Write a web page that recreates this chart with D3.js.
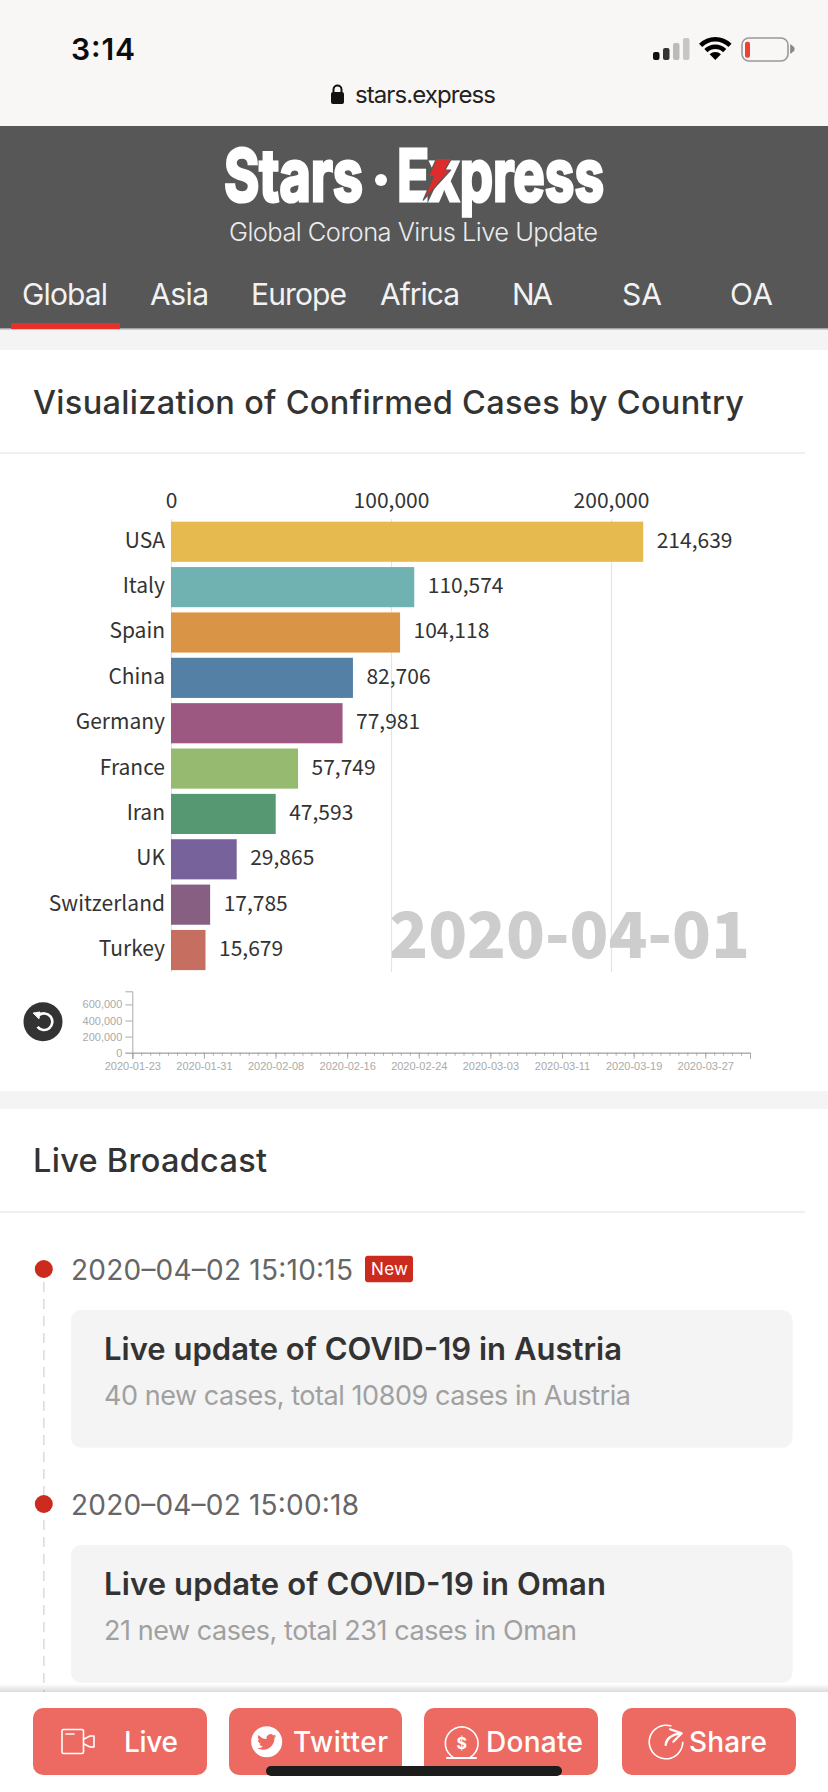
<!DOCTYPE html>
<html>
<head>
<meta charset="utf-8">
<script src="https://cdn.jsdelivr.net/npm/d3@7"></script>
<style>
  html, body { margin: 0; padding: 0; background: #fff; }
  svg { display: block; }
  text { font-family: Inter, Roboto, sans-serif; }
  .race text { font-family: "Noto Sans CJK SC", "Noto Sans", sans-serif; font-size: 21px; fill: #333; }
  .mini text { font-family: "Liberation Sans", Arial, sans-serif; font-size: 11px; fill: #aaa; }
  .mini path, .mini line { stroke: #aaa; }
</style>
</head>
<body>
<script>
// chart values
const countries = ["USA", "Italy", "Spain", "China", "Germany", "France", "Iran", "UK", "Switzerland", "Turkey"];
const cases = [214639, 110574, 104118, 82706, 77981, 57749, 47593, 29865, 17785, 15679];
const raceTicks = [0, 100000, 200000];
const raceDate = "2020-04-01";

const miniTicksY = [0, 200000, 400000, 600000];
const miniLabelsX = ["2020-01-23", "2020-01-31", "2020-02-08", "2020-02-16", "2020-02-24", "2020-03-03", "2020-03-11", "2020-03-19", "2020-03-27"];
const miniStart = "2020-01-23";
const miniEnd = "2020-04-01";

const navItems = ["Global", "Asia", "Europe", "Africa", "NA", "SA", "OA"];
const liveTimes = ["2020–04–02 15:10:15", "2020–04–02 15:00:18"];
const liveTitles = ["Live update of COVID-19 in Austria", "Live update of COVID-19 in Oman"];
const liveNotes = ["40 new cases, total 10809 cases in Austria", "21 new cases, total 231 cases in Oman"];
const buttons = ["Live", "Twitter", "Donate", "Share"];

const palette = ["#e6b84a", "#6ab0ae", "#d8923f", "#4e7ca3", "#99537c", "#93b86a", "#4f956c", "#735d99", "#825a7e", "#c46a5b"];

const svg = d3.select("body").append("svg").attr("width", 828).attr("height", 1792);

function rect(x, y, w, h, fill, r) {
  return svg.append("rect").attr("x", x).attr("y", y).attr("width", w).attr("height", h)
    .attr("rx", r || 0).attr("fill", fill);
}

function label(x, y, str, size, width, fill, weight, anchor) {
  return svg.append("text").attr("x", x).attr("y", y).text(str)
    .attr("font-size", size).attr("fill", fill).attr("font-weight", weight || 400)
    .attr("text-anchor", anchor || "start")
    .attr("textLength", width).attr("lengthAdjust", "spacing");
}

function icon(d, stroke, w, fill) {
  return svg.append("path").attr("d", d).attr("fill", fill || "none")
    .attr("stroke", stroke).attr("stroke-width", w).attr("stroke-linecap", "round").attr("stroke-linejoin", "round");
}

// ---- phone status bar
rect(0, 0, 828, 126, "#f8f7f6");
label(71, 60, "3:14", 30, 64, "#0c0c0c", 600);
label(355, 103, "stars.express", 24, 141, "#222", 400);
rect(331, 92, 13, 12, "#111", 2);
icon("M333.5 92 v-2.5 a4 4 0 0 1 8 0 v2.5", "#111", 2);

const signal = [[653, 8, "#111"], [663, 12, "#333"], [673, 17, "#bbb"], [683, 22, "#c6c6c6"]];
signal.forEach(s => rect(s[0], 60 - s[1], 6.5, s[1], s[2], 2));
[[0, 8], [11, 15.5], [18.5, 23]].forEach(r => {
  svg.append("path").attr("transform", "translate(715.3,60)")
    .attr("d", d3.arc().innerRadius(r[0]).outerRadius(r[1]).startAngle(-Math.PI / 4).endAngle(Math.PI / 4)())
    .attr("fill", "#000");
});
rect(742, 38, 46, 23, "none", 7).attr("stroke", "#999").attr("stroke-width", 1.6);
rect(745, 41.7, 5, 16, "#ea4335", 2);
icon("M791 45 l3 2.5 v3 l-3 2.5 z", "#888", 1, "#888");

// ---- site header
rect(0, 126, 828, 202, "#575757");
rect(0, 328, 828, 22, "#f4f4f4");
rect(0, 328, 828, 1.5, "#a6a6a6");

label(224, 200.7, "Stars", 72, 139, "#fff", 700).attr("lengthAdjust", "spacingAndGlyphs").attr("stroke", "#fff").attr("stroke-width", 3.2);
svg.append("circle").attr("cx", 381).attr("cy", 180).attr("r", 6).attr("fill", "#fff");
label(397, 200.7, "Express", 72, 207, "#fff", 700).attr("lengthAdjust", "spacingAndGlyphs").attr("stroke", "#fff").attr("stroke-width", 3.2);
icon("M436.7 158.3 L451.7 158.3 L445 170 L450.7 170 L423.3 200 L433.3 176.7 L428.3 176.7 Z", "#575757", 1.2, "#dd2c2c");

label(229, 241, "Global Corona Virus Live Update", 25.5, 369, "#ececec", 300);

const navX = [22, 150, 251, 380, 512, 622, 730];
const navW = [86, 59, 96, 80, 41, 40, 43];
navItems.forEach((n, i) => label(navX[i], 305, n, 30, navW[i], "#f2f2f2", 400));
rect(11, 323, 109, 6, "#e8302a");

// ---- race chart card
label(33, 414, "Visualization of Confirmed Cases by Country", 32.5, 711, "#333", 500);
rect(0, 452, 805, 2, "#f0f0f0");

const x = d3.scaleLinear().domain([0, 200000]).range([171, 611]);
const y = d3.scaleBand().domain(countries).range([521.7, 970.1]).paddingInner(0.115);
const color = d3.scaleOrdinal(countries, palette);
const fmt = d3.format(",");

const race = svg.append("g").attr("class", "race");

const gridAxis = race.append("g").attr("transform", "translate(0,519)")
  .call(d3.axisTop(x).tickValues(raceTicks).tickFormat(fmt).tickSize(-453).tickPadding(11));
gridAxis.select(".domain").remove();
gridAxis.selectAll("line").attr("stroke", "#e4e4e4").attr("stroke-width", 1.2);

race.append("text").attr("class", "date")
  .attr("x", 750).attr("y", 958).attr("text-anchor", "end")
  .style("font-size", "64px").style("font-weight", 900).style("fill", "#cdcdcd")
  .text(raceDate);

race.selectAll("rect").data(countries).enter().append("rect")
  .attr("x", x(0))
  .attr("y", d => y(d))
  .attr("height", y.bandwidth())
  .attr("width", (d, i) => x(cases[i]) - x(0))
  .attr("fill", d => color(d))
  .attr("fill-opacity", 0.97);

race.selectAll("text.cat").data(countries).enter().append("text").attr("class", "cat")
  .attr("x", x(0) - 6)
  .attr("y", d => y(d) + y.bandwidth() / 2 + 6)
  .attr("text-anchor", "end")
  .text(d => d);

race.selectAll("text.val").data(countries).enter().append("text").attr("class", "val")
  .attr("x", (d, i) => x(cases[i]) + 13.5)
  .attr("y", d => y(d) + y.bandwidth() / 2 + 6)
  .text((d, i) => fmt(cases[i]));

// ---- replay button and the small cumulative chart
svg.append("circle").attr("cx", 43).attr("cy", 1021.7).attr("r", 19.5).attr("fill", "#333");
svg.append("path").attr("transform", "translate(44,1021.7)")
  .attr("d", d3.arc().innerRadius(7).outerRadius(9.6).startAngle(-0.7).endAngle(Math.PI + 0.9)())
  .attr("fill", "#fff");
icon("M33.5 1013 l6.5 -1 l-1 6.5 z", "#fff", 1, "#fff");

const parseDay = d3.timeParse("%Y-%m-%d");
const miniX = d3.scaleTime().domain([parseDay(miniStart), parseDay(miniEnd)]).range([132.3, 750]);
const miniY = d3.scaleLinear().domain([0, 763000]).range([1052.7, 991.3]);
const mini = svg.append("g").attr("class", "mini");

mini.append("g").attr("transform", "translate(0,1052.7)")
  .call(d3.axisBottom(miniX).ticks(d3.timeDay.every(1)).tickFormat("").tickSize(3).tickSizeOuter(6));
mini.append("g").attr("transform", "translate(0,1052.7)")
  .call(d3.axisBottom(miniX).tickValues(miniLabelsX.map(parseDay)).tickFormat(d3.timeFormat("%Y-%m-%d")).tickSize(6).tickSizeOuter(6).tickPadding(3.5));
mini.append("g").attr("transform", "translate(132.3,0)")
  .call(d3.axisLeft(miniY).tickValues(miniTicksY).tickFormat(fmt).tickSize(7).tickPadding(3));

// ---- live broadcast card
rect(0, 1091, 828, 18, "#f4f4f4");
label(33, 1171.7, "Live Broadcast", 32.5, 234, "#333", 500);
rect(0, 1211, 805, 2, "#f0f0f0");

svg.append("line").attr("x1", 43.8).attr("x2", 43.8).attr("y1", 1282).attr("y2", 1692)
  .attr("stroke", "#ddd").attr("stroke-width", 1.6).attr("stroke-dasharray", "10 7");

const rowTop = [1269, 1504];
const noteWidth = [527, 473];
const titleWidth = [518, 502];
const timeWidth = [282, 288];
liveTimes.forEach((t, i) => {
  const y0 = rowTop[i];
  svg.append("circle").attr("cx", 43.8).attr("cy", y0).attr("r", 9).attr("fill", "#cd2a1e");
  label(71, y0 + 10.5, t, 28, timeWidth[i], "#666", 400);
  rect(71, y0 + 41, 721.5, 137.7, "#f4f4f4", 10);
  label(104, y0 + 90.5, liveTitles[i], 31, titleWidth[i], "#333", 600);
  label(104, y0 + 136, liveNotes[i], 27, noteWidth[i], "#a0a0a0", 400);
});
rect(365, 1255.7, 48, 26.5, "#cd2a1e", 3);
label(371, 1275, "New", 17, 37, "#fff", 400);

// ---- bottom action bar
const shade = svg.append("defs").append("linearGradient").attr("id", "shade")
  .attr("x1", 0).attr("x2", 0).attr("y1", 0).attr("y2", 1);
shade.append("stop").attr("offset", 0).attr("stop-color", "#000").attr("stop-opacity", 0);
shade.append("stop").attr("offset", 1).attr("stop-color", "#000").attr("stop-opacity", 0.14);
rect(0, 1684, 828, 8, "url(#shade)");
rect(0, 1692, 828, 100, "#fff");

const btnX = [33, 229, 424, 622];
const btnW = [174, 173, 174, 174];
const btnTextX = [124, 293, 486, 689];
const btnTextW = [54, 95, 97, 78];
buttons.forEach((b, i) => {
  rect(btnX[i], 1708, btnW[i], 67, "#ed6a63", 10);
  label(btnTextX[i], 1751.7, b, 28, btnTextW[i], "#fff", 500);
});

// camera
rect(62, 1729.5, 21.5, 24, "none", 1.5).attr("stroke", "#fff").attr("stroke-width", 1.6);
icon("M66 1734 h8", "#fff", 1.6);
icon("M84 1739 l6 -3 h4 v11 h-4 l-6 -3", "#fff", 1.6);
// twitter
svg.append("circle").attr("cx", 266.7).attr("cy", 1741.7).attr("r", 15.5).attr("fill", "#fff");
svg.append("path").attr("transform", "translate(257.2,1732.4) scale(0.8)")
  .attr("fill", "#ed6a63")
  .attr("d", "M23.95 4.57a10 10 0 01-2.82.77 4.96 4.96 0 002.16-2.72c-.95.55-2 .95-3.12 1.18a4.92 4.92 0 00-8.38 4.48C7.69 8.1 4.07 6.13 1.64 3.16a4.82 4.82 0 00-.66 2.47c0 1.71.87 3.21 2.19 4.1a4.9 4.9 0 01-2.23-.62v.06a4.92 4.92 0 003.95 4.83 5 5 0 01-2.21.08 4.94 4.94 0 004.6 3.42A9.87 9.87 0 010 19.54a14 14 0 007.56 2.21c9.05 0 14-7.5 14-13.98 0-.21 0-.42-.02-.63a9.94 9.94 0 002.46-2.55z");
// donate
svg.append("path").attr("transform", "translate(461.7,1743.3)")
  .attr("d", d3.arc().innerRadius(15.6).outerRadius(17.2).startAngle(Math.PI + 0.55).endAngle(3 * Math.PI - 0.55)())
  .attr("fill", "#fff");
icon("M447 1758 h29", "#fff", 2);
svg.append("text").attr("x", 461.7).attr("y", 1749).attr("text-anchor", "middle")
  .attr("font-size", 16).attr("font-weight", 700).attr("fill", "#fff").text("$");
// share
svg.append("path").attr("transform", "translate(666,1742)")
  .attr("d", d3.arc().innerRadius(16).outerRadius(17.6).startAngle(1.55).endAngle(2 * Math.PI + 0.33)())
  .attr("fill", "#fff");
icon("M665.7 1745 Q666 1736 680 1733.3 M670 1729.3 L681.7 1733.3 L673.3 1741.7", "#fff", 2.2);

// home indicator
rect(266, 1766, 296, 10, "#1c1c1c", 5);
</script>
</body>
</html>
